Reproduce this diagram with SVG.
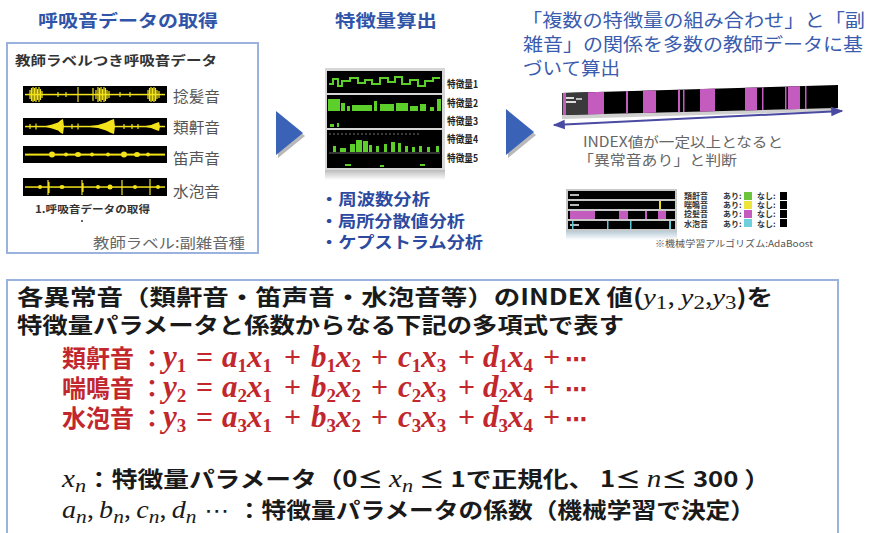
<svg xmlns="http://www.w3.org/2000/svg" width="870" height="533" viewBox="0 0 870 533">
<style>
text{font-family:"Noto Sans CJK JP","Noto Sans",sans-serif}
.ttl{font-size:17px;font-weight:bold;fill:#2f54a8}
.rt{font-size:18px;fill:#3a5cae}
.blt{font-size:16px;font-weight:bold;fill:#2c4aa0}
.wl{font-size:15px;fill:#555}
.fl{font-size:10px;font-weight:bold;fill:#222}
.gy{font-size:14px;fill:#666}
.lg{font-size:8px;font-weight:bold;fill:#333}
.big{font-size:22px;font-weight:bold;fill:#1a1a1a}
.red{font-size:24px;font-weight:bold;fill:#c1272d}
.m{font-family:"Liberation Serif",serif;font-style:italic}
.mr{font-family:"Liberation Serif",serif;font-style:italic;font-weight:bold;font-size:31px}
.sb{font-family:"Liberation Serif",serif;font-size:19px}
.op{font-family:"Liberation Serif",serif;font-size:30px;font-weight:bold}
.dt{font-family:"DejaVu Sans",sans-serif;font-size:22px}
.yl{stroke:#f2e31a;stroke-width:1.2;fill:none}
.yf{fill:#f2e31a}
.gr{fill:#5ccf2a}
.pk{fill:#c45cbf}
.box{fill:#fff;stroke:#9ab2de;stroke-width:2}
.tri{fill:#3a62b6}
.sh{fill:#8a8a8a;opacity:.6}
</style>
<defs>
<marker id="ah" viewBox="0 0 10 10" refX="9" refY="5" markerWidth="6" markerHeight="6" orient="auto-start-reverse"><path d="M0,1 L10,5 L0,9 Z" fill="#4a4aa2"/></marker>
<linearGradient id="refl" x1="0" y1="0" x2="0" y2="1"><stop offset="0" stop-color="#bbb"/><stop offset="1" stop-color="#fff"/></linearGradient>
<linearGradient id="refl2" x1="0" y1="0" x2="0" y2="1"><stop offset="0" stop-color="#b8cbd6"/><stop offset="1" stop-color="#fff"/></linearGradient>
<clipPath id="barclip"><polygon points="562,93 838,85 838,108 562,115"/></clipPath>
</defs>
<rect width="870" height="533" fill="#fff"/>

<!-- Section 1 -->
<g id="acquire">
<text class="ttl" x="38" y="27" textLength="180" lengthAdjust="spacingAndGlyphs">呼吸音データの取得</text>
<rect class="box" x="7" y="43" width="251" height="210" stroke-width="1.5"/>
<text x="15" y="65" font-size="13" font-weight="bold" fill="#333" textLength="202" lengthAdjust="spacingAndGlyphs">教師ラベルつき呼吸音データ</text>
<g id="wave1">
<rect x="23" y="86" width="144" height="17" fill="#000"/>
<rect class="yf" x="25" y="93.8" width="140" height="1.5"/>
<path class="yl" d="M30 90V99M31.5 88V101M33 87V102M34.5 88V101M36 87V102M37.5 89V100M39 87V102M40.5 89V100M42 91V98M78 87V102M93 88V101M96 90V99M98 87V102M99.5 88V101M101 87V102M102.5 89V100M104 87V102M105.5 88V101M107 90V99M109 91V98M148 90V99M149.5 88V101M151 87V102M152.5 88V101M154 87V102M155.5 88V101M157 90V99M159 91V98M58 92V97M66 92V97M120 92V97M130 92V97"/>
</g>
<g id="wave2">
<rect x="23" y="118" width="144" height="17" fill="#000"/>
<rect class="yf" x="25" y="125.8" width="140" height="1.5"/>
<path class="yf" d="M44 126.5L52 124.5L58 122.5L61 120L63 119L64 126.5L63 134L61 133L58 130.5L52 128.5ZM86 126.5L98 125L106 122.5L111 120L114 119L115 126.5L114 134L111 133L106 130.5L98 128ZM143 126.5L151 125L156 123L159 122L160 126.5L159 131L156 130L151 128Z"/>
<path class="yl" d="M30 124V129M36 123.5V129.5M72 124V129M78 123.5V129.5M124 124V129M132 124V129M138 124V129"/>
</g>
<g id="wave3">
<rect x="23" y="146" width="144" height="17" fill="#000"/>
<rect class="yf" x="25" y="153.6" width="140" height="2"/>
<g class="yf"><ellipse cx="52" cy="154.5" rx="3" ry="3"/><ellipse cx="66" cy="154.5" rx="2" ry="2"/><ellipse cx="78" cy="154.5" rx="3" ry="2.5"/><ellipse cx="92" cy="154.5" rx="2" ry="2"/><ellipse cx="108" cy="154.5" rx="2" ry="2"/><ellipse cx="124" cy="154.5" rx="3" ry="3"/><ellipse cx="137" cy="154.5" rx="3" ry="2.5"/><ellipse cx="148" cy="154.5" rx="2" ry="2"/></g>
</g>
<g id="wave4">
<rect x="23" y="178" width="144" height="18" fill="#000"/>
<rect class="yf" x="25" y="186.3" width="140" height="1.5"/>
<path class="yl" d="M48 180V195M82 180V195M122 180V195M150 179V195M49 182V193M83 183V192"/>
<g class="yf"><ellipse cx="40" cy="187" rx="2" ry="2"/><ellipse cx="62" cy="187" rx="2.5" ry="2"/><ellipse cx="98" cy="187" rx="2" ry="2"/><ellipse cx="110" cy="187" rx="2.5" ry="2.5"/><ellipse cx="135" cy="187" rx="2" ry="2"/><ellipse cx="158" cy="187" rx="2" ry="2"/></g>
</g>
<text class="wl" x="173" y="102" textLength="47" lengthAdjust="spacingAndGlyphs">捻髪音</text>
<text class="wl" x="173" y="133" textLength="47" lengthAdjust="spacingAndGlyphs">類鼾音</text>
<text class="wl" x="173" y="164" textLength="47" lengthAdjust="spacingAndGlyphs">笛声音</text>
<text class="wl" x="173" y="197" textLength="47" lengthAdjust="spacingAndGlyphs">水泡音</text>
<text x="35" y="213" font-size="10" font-weight="bold" fill="#333" textLength="115" lengthAdjust="spacingAndGlyphs">1.呼吸音データの取得</text>
<circle cx="82" cy="221" r="1" fill="#333"/>
<text class="gy" x="93" y="248" textLength="152" lengthAdjust="spacingAndGlyphs">教師ラベル:副雑音種</text>
</g>

<g id="arrow1"><polygon class="sh" points="278,114 305,136 278,158"/><polygon class="tri" points="276,111 303,133 276,155"/></g>

<!-- Section 2 -->
<g id="features">
<text class="ttl" x="335" y="27" textLength="102" lengthAdjust="spacingAndGlyphs">特徴量算出</text>
<rect x="325" y="68" width="120" height="102" fill="#d6d6d6"/>
<rect x="325" y="170" width="120" height="10" fill="url(#refl)"/>
<rect x="327" y="71" width="115" height="22" fill="#000"/>
<polyline points="329,84 333,84 333,79 338,79 338,86 342,86 342,81 350,81 350,78 358,78 358,83 365,83 365,80 372,80 372,84 380,84 380,78 388,78 388,82 395,82 395,77 402,77 402,84 410,84 410,80 418,80 418,86 425,86 425,81 433,81 433,78 440,78" fill="none" stroke="#5ccf2a" stroke-width="2"/>
<rect x="327" y="95" width="115" height="33" fill="#000"/>
<g class="gr">
<rect x="328" y="99" width="12" height="12"/><rect x="341" y="103" width="4" height="8"/><rect x="347" y="106" width="3" height="5"/><rect x="352" y="105" width="20" height="6"/><rect x="374" y="101" width="3" height="10"/><rect x="380" y="104" width="14" height="7"/><rect x="396" y="103" width="12" height="8"/><rect x="410" y="106" width="8" height="5"/><rect x="420" y="104" width="6" height="7"/><rect x="430" y="107" width="4" height="4"/><rect x="437" y="99" width="4" height="12"/>
<rect x="330" y="124" width="4" height="3"/><rect x="337" y="123" width="2" height="4"/>
</g>
<rect x="327" y="130" width="115" height="38" fill="#000"/>
<line x1="329" y1="134" x2="420" y2="134" stroke="#777" stroke-width="1" stroke-dasharray="2 2"/>
<g class="gr">
<rect x="333" y="146" width="3" height="6"/><rect x="340" y="148" width="6" height="4"/><rect x="350" y="144" width="5" height="8"/><rect x="356" y="140" width="6" height="12"/><rect x="363" y="141" width="5" height="11"/><rect x="369" y="145" width="3" height="7"/><rect x="376" y="146" width="3" height="6"/><rect x="384" y="144" width="3" height="8"/><rect x="391" y="142" width="4" height="10"/><rect x="398" y="143" width="3" height="9"/><rect x="405" y="146" width="3" height="6"/><rect x="412" y="147" width="3" height="5"/><rect x="419" y="146" width="3" height="6"/><rect x="427" y="147" width="3" height="5"/><rect x="436" y="146" width="3" height="6"/>
<rect x="345" y="164" width="6" height="2"/><rect x="380" y="165" width="4" height="2"/><rect x="420" y="164" width="5" height="2"/>
</g>
<line x1="329" y1="153" x2="440" y2="153" stroke="#666" stroke-width="1"/>
<text class="fl" x="447" y="88" textLength="31" lengthAdjust="spacingAndGlyphs">特徴量1</text>
<text class="fl" x="447" y="107" textLength="31" lengthAdjust="spacingAndGlyphs">特徴量2</text>
<text class="fl" x="447" y="125" textLength="31" lengthAdjust="spacingAndGlyphs">特徴量3</text>
<text class="fl" x="447" y="143" textLength="31" lengthAdjust="spacingAndGlyphs">特徴量4</text>
<text class="fl" x="447" y="162" textLength="31" lengthAdjust="spacingAndGlyphs">特徴量5</text>
<text class="blt" x="320" y="205" textLength="110" lengthAdjust="spacingAndGlyphs">・周波数分析</text>
<text class="blt" x="320" y="227" textLength="145" lengthAdjust="spacingAndGlyphs">・局所分散値分析</text>
<text class="blt" x="320" y="248" textLength="163" lengthAdjust="spacingAndGlyphs">・ケプストラム分析</text>
</g>

<g id="arrow2"><polygon class="sh" points="508,112 536,135 508,158"/><polygon class="tri" points="506,109 534,132 506,155"/></g>

<!-- Section 3 -->
<g id="learning">
<text class="rt" x="522" y="27" textLength="343" lengthAdjust="spacingAndGlyphs">「複数の特徴量の組み合わせ」と「副</text>
<text class="rt" x="523" y="51" textLength="340" lengthAdjust="spacingAndGlyphs">雑音」の関係を多数の教師データに基</text>
<text class="rt" x="523" y="75" textLength="97" lengthAdjust="spacingAndGlyphs">づいて算出</text>
<polygon points="562,115 838,108 838,111 562,119" fill="#cfcfcf"/>
<polygon points="562,93 838,85 838,108 562,115" fill="#000"/>
<g clip-path="url(#barclip)">
<rect x="562" y="80" width="26" height="40" fill="#3a3a3a"/>
<rect x="566" y="97" width="8" height="2" fill="#ddd"/><rect x="566" y="101" width="10" height="2" fill="#ddd"/><rect x="576" y="98" width="6" height="2" fill="#bbb"/>
<g class="pk"><rect x="563" y="80" width="3" height="40"/><rect x="588" y="80" width="16" height="40"/><rect x="626" y="80" width="2" height="40"/><rect x="643" y="80" width="13" height="40"/><rect x="678" y="80" width="2" height="40"/><rect x="683" y="80" width="1.5" height="40"/><rect x="700" y="80" width="15" height="40"/><rect x="745" y="80" width="12" height="40"/><rect x="762" y="80" width="1.5" height="40"/><rect x="785" y="80" width="1.5" height="40"/><rect x="788" y="80" width="12" height="40"/><rect x="805" y="80" width="1.5" height="40"/></g>
</g>
<line x1="554" y1="125" x2="842" y2="111" stroke="#4a4aa2" stroke-width="2" marker-start="url(#ah)" marker-end="url(#ah)"/>
<text class="gy" x="583" y="147" textLength="200" lengthAdjust="spacingAndGlyphs">INDEX値が一定以上となると</text>
<text class="gy" x="578" y="165" textLength="159" lengthAdjust="spacingAndGlyphs">「異常音あり」と判断</text>
<rect x="566" y="189" width="111" height="42" fill="#c8c8c8"/>
<rect x="566" y="231" width="111" height="9" fill="url(#refl2)"/>
<rect x="568" y="191" width="107" height="8" fill="#000"/>
<rect x="568" y="201" width="107" height="8" fill="#000"/>
<rect x="568" y="211" width="107" height="8" fill="#000"/>
<rect x="568" y="221" width="107" height="8" fill="#000"/>
<g fill="#bbb"><rect x="570" y="194" width="9" height="2"/><rect x="570" y="204" width="9" height="2"/><rect x="570" y="224" width="9" height="2"/></g>
<rect x="659" y="201" width="2" height="8" fill="#e8e020"/>
<g class="pk"><rect x="570" y="211" width="25" height="8"/><rect x="619" y="211" width="9" height="8"/><rect x="645" y="211" width="2" height="8"/><rect x="658" y="211" width="8" height="8"/></g>
<g fill="#5cc8d4"><rect x="572" y="221" width="1.5" height="8"/><rect x="607" y="221" width="1.5" height="8"/><rect x="630" y="221" width="1.5" height="8"/><rect x="669" y="221" width="2" height="8"/></g>
<text class="lg" x="684" y="199">類鼾音</text>
<text class="lg" x="684" y="208">喘鳴音</text>
<text class="lg" x="684" y="217">捻髪音</text>
<text class="lg" x="684" y="227">水泡音</text>
<text class="lg" x="723" y="199">あり:</text>
<text class="lg" x="723" y="208">あり:</text>
<text class="lg" x="723" y="217">あり:</text>
<text class="lg" x="723" y="227">あり:</text>
<rect x="744" y="192" width="8" height="8" fill="#6cc43c"/>
<rect x="744" y="201" width="8" height="8" fill="#ece43a"/>
<rect x="744" y="210" width="8" height="8" fill="#c45cbf"/>
<rect x="744" y="219" width="8" height="8" fill="#6dd0dc"/>
<text class="lg" x="757" y="199">なし:</text>
<text class="lg" x="757" y="208">なし:</text>
<text class="lg" x="757" y="217">なし:</text>
<text class="lg" x="757" y="227">なし:</text>
<rect x="780" y="192" width="7" height="8" fill="#000"/>
<rect x="780" y="201" width="7" height="8" fill="#000"/>
<rect x="780" y="210" width="7" height="8" fill="#000"/>
<rect x="780" y="219" width="7" height="8" fill="#000"/>
<text x="655" y="247" font-size="9" fill="#555" textLength="158" lengthAdjust="spacingAndGlyphs">※機械学習アルゴリズム:AdaBoost</text>
</g>

<!-- Bottom panel -->
<g id="formula">
<rect class="box" x="7" y="280" width="831" height="262"/>
<text class="big" x="17" y="305" textLength="756" lengthAdjust="spacingAndGlyphs">各異常音（類鼾音・笛声音・水泡音等）のINDEX 値(<tspan class="m" font-weight="normal" font-size="24">y</tspan><tspan class="sb" font-weight="normal" dy="4">1</tspan><tspan dy="-4" font-weight="normal">, </tspan><tspan class="m" font-weight="normal" font-size="24">y</tspan><tspan class="sb" font-weight="normal" dy="4">2</tspan><tspan dy="-4" font-weight="normal">,</tspan><tspan class="m" font-weight="normal" font-size="24">y</tspan><tspan class="sb" font-weight="normal" dy="4">3</tspan><tspan dy="-4">)を</tspan></text>
<text class="big" x="17" y="333" textLength="607" lengthAdjust="spacingAndGlyphs">特徴量パラメータと係数からなる下記の多項式で表す</text>

<text class="red" y="367"><tspan x="62">類鼾音</tspan><tspan x="140">：</tspan><tspan x="163" class="mr">y</tspan><tspan class="sb" dy="5">1</tspan><tspan x="196" dy="-5" class="op">=</tspan><tspan x="222" class="mr">a</tspan><tspan class="sb" dy="5">1</tspan><tspan class="mr" dy="-5">x</tspan><tspan class="sb" dy="5">1</tspan><tspan x="284" dy="-5" class="op">+</tspan><tspan x="311" class="mr">b</tspan><tspan class="sb" dy="5">1</tspan><tspan class="mr" dy="-5">x</tspan><tspan class="sb" dy="5">2</tspan><tspan x="371" dy="-5" class="op">+</tspan><tspan x="398" class="mr">c</tspan><tspan class="sb" dy="5">1</tspan><tspan class="mr" dy="-5">x</tspan><tspan class="sb" dy="5">3</tspan><tspan x="458" dy="-5" class="op">+</tspan><tspan x="483" class="mr">d</tspan><tspan class="sb" dy="5">1</tspan><tspan class="mr" dy="-5">x</tspan><tspan class="sb" dy="5">4</tspan><tspan x="543" dy="-5" class="op">+</tspan><tspan x="565" class="dt">⋯</tspan></text>
<text class="red" y="397"><tspan x="62">喘鳴音</tspan><tspan x="140">：</tspan><tspan x="163" class="mr">y</tspan><tspan class="sb" dy="5">2</tspan><tspan x="196" dy="-5" class="op">=</tspan><tspan x="222" class="mr">a</tspan><tspan class="sb" dy="5">2</tspan><tspan class="mr" dy="-5">x</tspan><tspan class="sb" dy="5">1</tspan><tspan x="284" dy="-5" class="op">+</tspan><tspan x="311" class="mr">b</tspan><tspan class="sb" dy="5">2</tspan><tspan class="mr" dy="-5">x</tspan><tspan class="sb" dy="5">2</tspan><tspan x="371" dy="-5" class="op">+</tspan><tspan x="398" class="mr">c</tspan><tspan class="sb" dy="5">2</tspan><tspan class="mr" dy="-5">x</tspan><tspan class="sb" dy="5">3</tspan><tspan x="458" dy="-5" class="op">+</tspan><tspan x="483" class="mr">d</tspan><tspan class="sb" dy="5">2</tspan><tspan class="mr" dy="-5">x</tspan><tspan class="sb" dy="5">4</tspan><tspan x="543" dy="-5" class="op">+</tspan><tspan x="565" class="dt">⋯</tspan></text>
<text class="red" y="427"><tspan x="62">水泡音</tspan><tspan x="140">：</tspan><tspan x="163" class="mr">y</tspan><tspan class="sb" dy="5">3</tspan><tspan x="196" dy="-5" class="op">=</tspan><tspan x="222" class="mr">a</tspan><tspan class="sb" dy="5">3</tspan><tspan class="mr" dy="-5">x</tspan><tspan class="sb" dy="5">1</tspan><tspan x="284" dy="-5" class="op">+</tspan><tspan x="311" class="mr">b</tspan><tspan class="sb" dy="5">3</tspan><tspan class="mr" dy="-5">x</tspan><tspan class="sb" dy="5">2</tspan><tspan x="371" dy="-5" class="op">+</tspan><tspan x="398" class="mr">c</tspan><tspan class="sb" dy="5">3</tspan><tspan class="mr" dy="-5">x</tspan><tspan class="sb" dy="5">3</tspan><tspan x="458" dy="-5" class="op">+</tspan><tspan x="483" class="mr">d</tspan><tspan class="sb" dy="5">3</tspan><tspan class="mr" dy="-5">x</tspan><tspan class="sb" dy="5">4</tspan><tspan x="543" dy="-5" class="op">+</tspan><tspan x="565" class="dt">⋯</tspan></text>

<text class="big" x="62" y="487" textLength="708" lengthAdjust="spacingAndGlyphs"><tspan class="m" font-weight="normal" font-size="25">x</tspan><tspan class="m sb" font-weight="normal" dy="5">n</tspan><tspan dy="-5">：特徴量パラメータ（0≤ </tspan><tspan class="m" font-weight="normal" font-size="25">x</tspan><tspan class="m sb" font-weight="normal" dy="5">n</tspan><tspan dy="-5"> ≤ 1で正規化、 1≤ </tspan><tspan class="m" font-weight="normal" font-size="25">n</tspan><tspan>≤ 300 ）</tspan></text>
<text class="big" x="62" y="518" textLength="693" lengthAdjust="spacingAndGlyphs"><tspan class="m" font-weight="normal" font-size="25">a</tspan><tspan class="m sb" font-weight="normal" dy="5">n</tspan><tspan dy="-5" font-weight="normal">, </tspan><tspan class="m" font-weight="normal" font-size="25">b</tspan><tspan class="m sb" font-weight="normal" dy="5">n</tspan><tspan dy="-5" font-weight="normal">, </tspan><tspan class="m" font-weight="normal" font-size="25">c</tspan><tspan class="m sb" font-weight="normal" dy="5">n</tspan><tspan dy="-5" font-weight="normal">, </tspan><tspan class="m" font-weight="normal" font-size="25">d</tspan><tspan class="m sb" font-weight="normal" dy="5">n</tspan><tspan dy="-5" class="dt" font-weight="normal"> ⋯ </tspan><tspan>：特徴量パラメータの係数（機械学習で決定）</tspan></text>
</g>
</svg>
